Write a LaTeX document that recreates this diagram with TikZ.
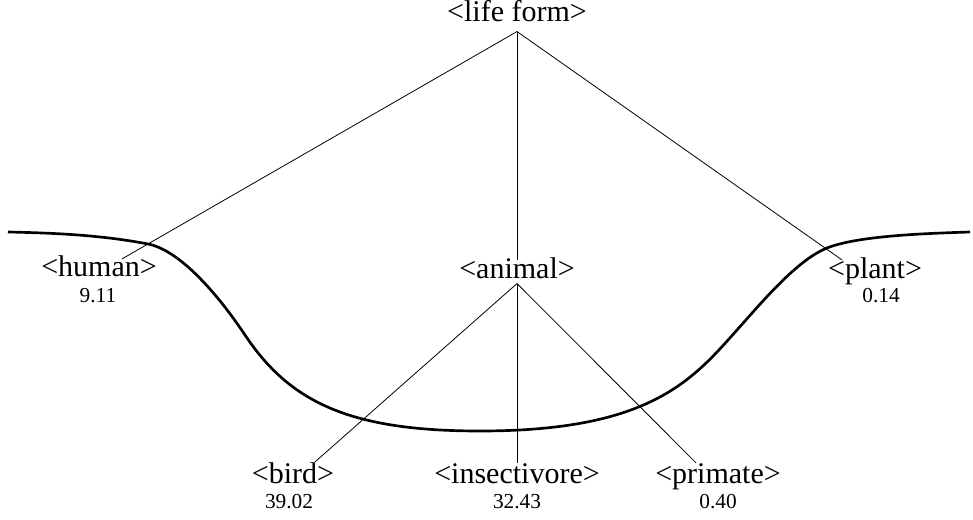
\documentclass[tikz,border=0pt]{standalone}
\usepackage{fontspec}
\setmainfont{Liberation Serif}
\usetikzlibrary{calc}
\tikzset{
  node-label/.style={inner sep=0pt,anchor=base,font=\fontsize{22.5}{27}\selectfont},
  node-score/.style={inner sep=0pt,anchor=base,font=\fontsize{16}{19}\selectfont},
  edge/.style={draw=black,line width=0.6pt},
  cut-curve/.style={draw=black,line width=2pt},
}

\begin{document}
\begin{tikzpicture}[x=0.75pt,y=-0.75pt]
  \useasboundingbox (0,0) rectangle (973,520);
  \node[node-label] (lf)        at (517,22)  {<life form>};
  \node[node-label] (human)     at (99,276)  {<human>};
  \node[node-score] (human-p)   at (98,302)  {9.11};
  \node[node-label] (animal)    at (517,278) {<animal>};
  \node[node-label] (plant)     at (875,278) {<plant>};
  \node[node-score] (plant-p)   at (881,302) {0.14};
  \node[node-label] (bird)      at (293,483) {<bird>};
  \node[node-score] (bird-p)    at (289,508) {39.02};
  \node[node-label] (insect)    at (517,483) {<insectivore>};
  \node[node-score] (insect-p)  at (517,508) {32.43};
  \node[node-label] (primate)   at (718,483) {<primate>};
  \node[node-score] (primate-p) at (718,508) {0.40};
  \coordinate (lf-root) at ($(lf.south)+(0,9)$);
  \coordinate (animal-root) at ($(animal.south)+(0,5)$);
  \draw[edge] (lf-root) -- ($(human.north)+(23,4)$);
  \draw[edge] (lf-root) -- ($(animal.north)+(0,3)$);
  \draw[edge] (lf-root) -- ($(plant.north)+(-33,3)$);
  \draw[edge] (animal-root) -- ($(bird.north)+(22,0)$);
  \draw[edge] (animal-root) -- ($(insect.north)+(0,0)$);
  \draw[edge] (animal-root) -- ($(primate.north)+(-22,0)$);
  % the cut through the tree
  \draw[cut-curve] (8,232) .. controls (55,233) and (101,235) .. (148,244)
    .. controls (183,251) and (223,302) .. (245,335)
    .. controls (290,402.5) and (350,431) .. (480,431)
    .. controls (650,431) and (692,380.4) .. (737,330)
    .. controls (762,302) and (797,260) .. (827,248)
    .. controls (857,236) and (922,233.5) .. (970,232);
\end{tikzpicture}
\end{document}
